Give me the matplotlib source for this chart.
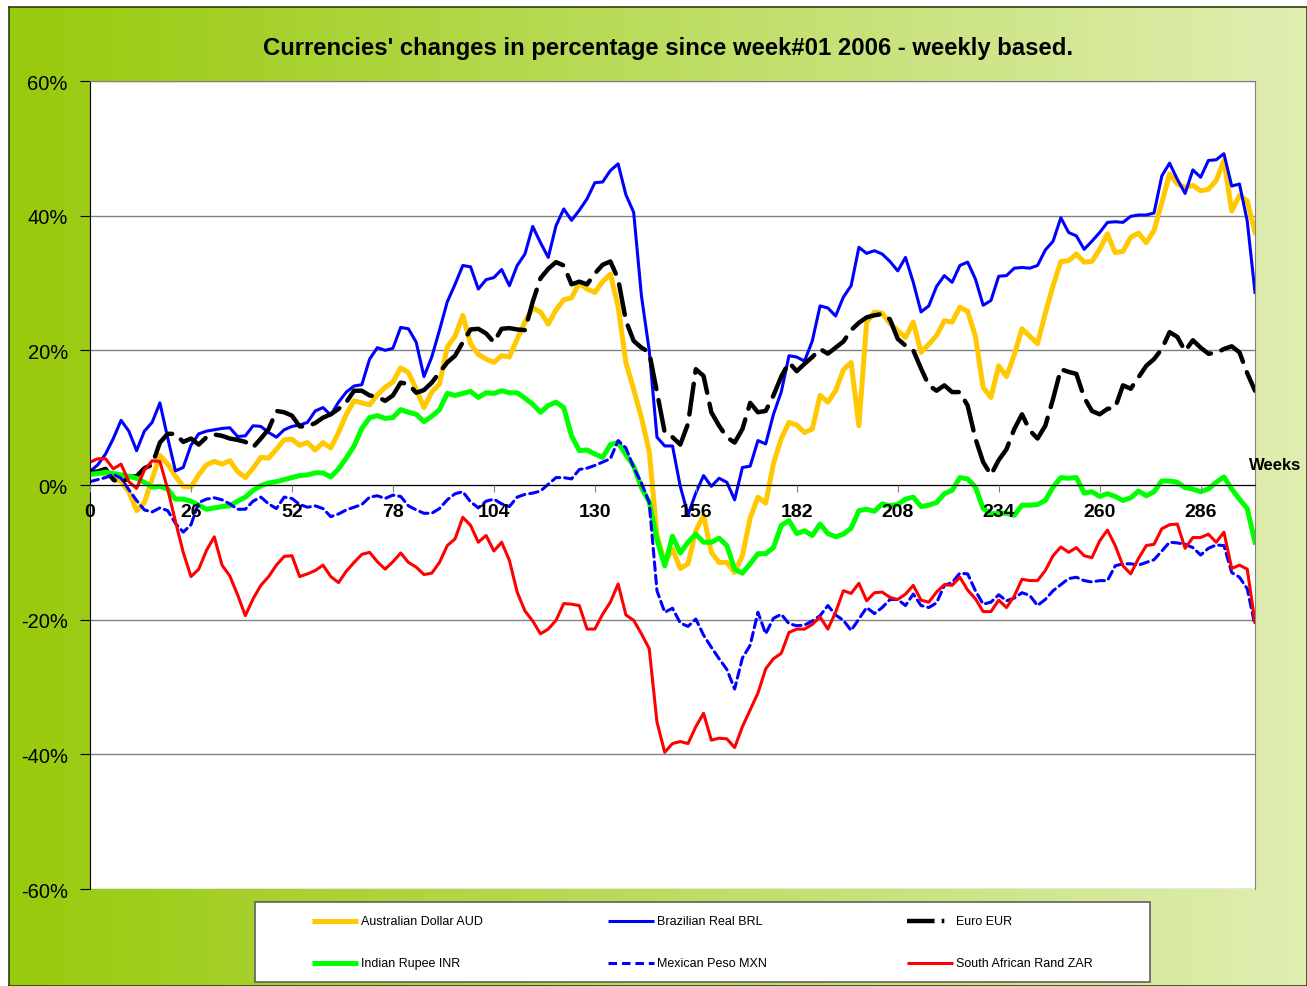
import numpy as np
import matplotlib.pyplot as plt
from matplotlib.lines import Line2D
from matplotlib.patches import Rectangle
from matplotlib.ticker import FuncFormatter

plt.rcParams['font.family'] = ['Liberation Sans', 'DejaVu Sans']

# Data: % change since week #01 2006, read every 2 weeks
weeks = list(range(0, 301, 2))

aud = [1.5, 2.0, 1.6, 1.0, 0.5, -1.0, -3.8, -2.6, 0.9, 4.4,
       3.1, 1.3, -0.2, -0.3, 1.5, 3.0, 3.5, 3.1, 3.6, 2.0,
       1.1, 2.5, 4.1, 4.0, 5.3, 6.7, 6.8, 5.9, 6.3, 5.2,
       6.3, 5.5, 7.8, 10.5, 12.5, 12.2, 11.9, 13.4, 14.5, 15.3,
       17.4, 16.7, 14.2, 11.5, 13.8, 15.0, 20.5, 22.1, 25.2, 21.0,
       19.4, 18.7, 18.2, 19.2, 19.0, 21.7, 24.2, 26.3, 25.7, 23.9,
       26.0, 27.5, 27.8, 30.0, 29.1, 28.6, 30.2, 31.3, 26.5, 18.2,
       14.2, 10.0, 5.0, -7.4, -11.5, -9.5, -12.4, -11.7, -6.8, -4.5,
       -10.0, -11.5, -11.5, -13.0, -10.5, -4.9, -1.8, -2.7, 3.2, 6.9,
       9.3, 8.9, 7.8, 8.3, 13.3, 12.3, 14.0, 17.1, 18.2, 8.8,
       24.2, 25.7, 25.5, 24.0, 22.9, 21.9, 24.2, 19.7, 20.9, 22.2,
       24.4, 24.2, 26.4, 25.8, 22.1, 14.5, 13.0, 17.7, 16.1, 19.3,
       23.2, 22.1, 21.0, 25.5, 29.6, 33.2, 33.3, 34.3, 33.1, 33.2,
       35.0, 37.3, 34.5, 34.7, 36.8, 37.4, 36.0, 37.8, 41.9, 46.2,
       44.7, 44.2, 44.5, 43.7, 43.9, 45.2, 48.2, 40.7, 43.0, 42.2,
       37.5]

brl = [2.0, 3.0, 4.6, 6.9, 9.6, 8.0, 5.1, 8.0, 9.3, 12.2,
       7.0, 2.1, 2.6, 5.9, 7.6, 8.0, 8.2, 8.4, 8.5, 7.2,
       7.3, 8.8, 8.7, 7.8, 7.1, 8.2, 8.7, 8.9, 9.3, 11.0,
       11.5, 10.4, 12.3, 13.8, 14.7, 14.9, 18.7, 20.4, 20.0, 20.3,
       23.4, 23.2, 21.2, 16.1, 19.0, 23.0, 27.2, 29.8, 32.6, 32.4,
       29.1, 30.5, 30.8, 32.0, 29.6, 32.6, 34.3, 38.4, 36.0, 33.8,
       38.5, 41.0, 39.3, 40.8, 42.5, 44.9, 45.0, 46.7, 47.7, 43.1,
       40.5, 28.1, 20.0, 7.1, 5.8, 5.8, -0.2, -4.4, -1.2, 1.4,
       -0.2, 1.0, 0.4, -2.2, 2.6, 2.8, 6.6, 6.1, 10.5, 13.8,
       19.2, 19.0, 18.4, 21.4, 26.6, 26.3, 25.1, 27.9, 29.6, 35.3,
       34.4, 34.8, 34.3, 33.2, 31.8, 33.8, 30.1, 25.7, 26.6, 29.5,
       31.1, 30.1, 32.6, 33.1, 30.6, 26.7, 27.4, 31.0, 31.1, 32.2,
       32.3, 32.2, 32.6, 34.9, 36.2, 39.7, 37.5, 37.0, 35.0, 36.2,
       37.5, 39.0, 39.1, 39.0, 39.9, 40.1, 40.1, 40.4, 45.9, 47.8,
       45.4, 43.3, 46.8, 45.7, 48.2, 48.3, 49.2, 44.4, 44.7, 39.2,
       28.6]

eur = [1.9, 2.0, 2.4, 0.8, 0.2, 1.2, 1.3, 2.5, 3.0, 6.3,
       7.6, 7.6, 6.4, 6.9, 6.0, 7.1, 7.5, 7.3, 6.9, 6.7,
       6.4, 5.6, 6.9, 8.3, 11.0, 10.8, 10.3, 8.7, 8.7, 9.2,
       10.0, 10.5, 11.3, 12.3, 14.0, 14.0, 13.3, 13.1, 12.5, 13.3,
       15.2, 15.0, 13.7, 14.1, 15.2, 16.7, 18.2, 19.2, 21.2, 23.1,
       23.2, 22.5, 21.2, 23.2, 23.3, 23.1, 23.0, 27.2, 30.7, 32.1,
       33.1, 32.6, 29.8, 30.2, 29.8, 31.4, 32.7, 33.2, 30.6, 24.4,
       21.4, 20.4, 19.7, 13.8, 7.8, 7.1, 6.0, 9.1, 17.2, 16.2,
       10.8, 8.8, 7.1, 6.3, 8.3, 12.2, 10.8, 11.0, 13.3, 16.1,
       18.2, 16.9, 18.0, 19.0, 20.2, 19.5, 20.4, 21.3, 23.0, 24.1,
       24.9, 25.2, 25.4, 24.6, 21.7, 20.7, 20.0, 17.3, 14.8, 14.0,
       14.8, 13.8, 13.8, 11.8, 6.9, 3.4, 1.5, 3.7, 5.3, 8.3,
       10.5, 8.1, 6.9, 8.8, 12.8, 17.2, 16.8, 16.5, 13.0, 11.0,
       10.5, 11.3, 11.5, 14.8, 14.3, 16.0, 17.7, 18.7, 20.2, 22.7,
       22.0, 19.9, 21.5, 20.4, 19.5, 19.6, 20.2, 20.6, 19.7, 16.6,
       14.0]

inr = [1.6, 1.7, 1.9, 1.7, 1.5, 1.3, 1.0, 0.4, -0.3, -0.2,
       -0.6, -2.1, -2.1, -2.4, -3.0, -3.6, -3.4, -3.2, -3.1, -2.4,
       -1.8, -0.8, -0.1, 0.3, 0.5, 0.8, 1.1, 1.4, 1.5, 1.8,
       1.8, 1.2, 2.4, 4.0, 5.8, 8.4, 10.0, 10.3, 9.9, 10.0,
       11.2, 10.8, 10.5, 9.4, 10.2, 11.2, 13.6, 13.3, 13.6, 13.9,
       13.0, 13.7, 13.6, 14.0, 13.7, 13.7, 12.9, 12.0, 10.8, 11.8,
       12.3, 11.5, 7.3, 5.1, 5.2, 4.6, 4.1, 6.0, 6.3, 4.5,
       2.8, -0.4, -2.5, -8.1, -12.0, -7.6, -10.1, -8.5, -7.3, -8.5,
       -8.5, -7.9, -9.0, -12.5, -13.1, -11.7, -10.2, -10.2, -9.3, -6.0,
       -5.3, -7.2, -6.8, -7.5, -5.8, -7.2, -7.7, -7.3, -6.4, -3.8,
       -3.6, -3.9, -2.8, -3.1, -2.9, -2.1, -1.8, -3.2, -3.0, -2.6,
       -1.3, -0.8, 1.1, 0.9, -0.3, -3.5, -4.3, -4.2, -4.2, -4.5,
       -3.0, -3.0, -2.9, -2.3, -0.3, 1.1, 1.0, 1.1, -1.2, -1.0,
       -1.7, -1.3, -1.7, -2.3, -1.9, -0.9, -1.6, -1.0, 0.6, 0.6,
       0.4, -0.4, -0.6, -1.0, -0.6, 0.4, 1.2, -0.6, -2.1, -3.5,
       -8.5]

mxn = [0.5, 0.8, 1.1, 1.6, 1.0, -0.7, -2.3, -3.7, -4.0, -3.4,
       -3.8, -5.7, -7.0, -5.9, -2.6, -2.1, -1.9, -2.2, -2.8, -3.6,
       -3.6, -2.4, -1.8, -2.8, -3.5, -1.8, -2.0, -2.9, -3.3, -3.1,
       -3.5, -4.7, -4.3, -3.7, -3.3, -2.9, -1.8, -1.6, -2.0, -1.5,
       -1.7, -3.1, -3.7, -4.2, -4.2, -3.5, -2.2, -1.3, -1.0, -2.5,
       -3.4, -2.4, -2.1, -2.8, -3.2, -1.8, -1.4, -1.2, -0.9, 0.1,
       1.1, 1.1, 0.9, 2.3, 2.5, 2.9, 3.4, 3.9, 6.6, 5.5,
       2.6, 0.3, -2.6, -15.7, -18.9, -18.3, -20.5, -21.0, -19.9, -22.3,
       -24.1, -25.8, -27.4, -30.3, -25.7, -23.8, -18.9, -22.1, -19.8, -19.2,
       -20.6, -20.9, -20.8, -20.2, -19.4, -17.9, -19.3, -20.1, -21.6, -19.9,
       -18.2, -19.1, -18.2, -17.0, -17.0, -17.9, -16.2, -17.9, -18.2, -17.5,
       -14.9, -14.5, -13.1, -13.2, -15.7, -17.7, -17.4, -16.3, -17.2, -16.8,
       -16.0, -16.4, -17.9, -17.0, -15.7, -14.8, -13.9, -13.7, -14.2, -14.4,
       -14.2, -14.2, -12.0, -11.7, -11.7, -11.9, -11.5, -11.1, -9.8, -8.5,
       -8.6, -8.8, -9.3, -10.4, -9.4, -8.9, -9.0, -13.0, -13.7, -15.4,
       -20.9]

zar = [3.4, 3.9, 3.9, 2.4, 3.1, 0.5, -0.5, 2.2, 3.6, 3.5,
       -0.6, -5.4, -10.0, -13.6, -12.5, -9.7, -7.7, -11.9, -13.5, -16.3,
       -19.4, -16.9, -14.9, -13.6, -11.9, -10.6, -10.5, -13.6, -13.2, -12.7,
       -11.9, -13.6, -14.5, -12.8, -11.5, -10.3, -10.0, -11.4, -12.5, -11.4,
       -10.1, -11.5, -12.2, -13.3, -13.1, -11.5, -9.0, -8.0, -4.8, -6.0,
       -8.5, -7.5, -9.8, -8.5, -11.2, -15.9, -18.7, -20.2, -22.1, -21.4,
       -20.1, -17.6, -17.7, -17.9, -21.4, -21.4, -19.2, -17.4, -14.7, -19.3,
       -20.1, -22.1, -24.3, -35.2, -39.7, -38.4, -38.1, -38.4, -35.9, -33.9,
       -37.9, -37.6, -37.7, -39.0, -35.9, -33.4, -30.9, -27.3, -25.8, -25.0,
       -21.9, -21.4, -21.4, -20.7, -19.6, -21.4, -18.9, -15.7, -16.1, -14.6,
       -17.2, -16.0, -15.9, -16.7, -17.0, -16.2, -14.9, -17.1, -17.4, -15.9,
       -14.8, -14.9, -13.7, -15.6, -16.9, -18.8, -18.8, -17.1, -18.2, -16.5,
       -14.0, -14.2, -14.2, -12.7, -10.5, -9.2, -10.0, -9.3, -10.5, -10.8,
       -8.3, -6.7, -9.0, -12.0, -13.2, -10.9, -9.0, -8.8, -6.5, -5.9,
       -5.8, -9.4, -7.8, -7.8, -7.3, -8.5, -7.0, -12.4, -11.9, -12.5,
       -20.4]

labels = ['Australian Dollar AUD', 'Brazilian Real BRL', 'Euro EUR',
          'Indian Rupee INR', 'Mexican Peso MXN', 'South African Rand ZAR']
series = [aud, brl, eur, inr, mxn, zar]
colors = ['#FFC800', '#0000FF', '#000000', '#00FF00', '#0000FF', '#FF0000']
widths = [3.6, 2.2, 3.2, 3.6, 2.2, 2.2]
dashes = [None, None, (7, 2.5), None, (2.8, 1.6), None]

W, H = 1307, 987
fig = plt.figure(figsize=(W / 100, H / 100), dpi=100)

# green gradient background with dark frame
bg = fig.add_axes([9 / W, 0, 1 - 9 / W, 1 - 8 / H])
left_c = np.array([152, 202, 12]) / 255
right_c = np.array([224, 238, 178]) / 255
t = np.linspace(0, 1, 400)[None, :, None]
grad = left_c * (1 - t) + right_c * t
bg.imshow(grad, aspect='auto', extent=[0, 1, 0, 1])
bg.set_xticks([])
bg.set_yticks([])
for s in bg.spines.values():
    s.set_color('#2d3d10')
    s.set_linewidth(1.2)

ax = fig.add_axes([90 / W, 1 - 890 / H, (1255 - 90) / W, (890 - 82) / H])
ax.set_facecolor('white')

for y, lab, c, lw, d in zip(series, labels, colors, widths, dashes):
    line, = ax.plot(weeks, y, color=c, lw=lw, label=lab,
                    solid_joinstyle='round', dash_capstyle='round')
    if d is not None:
        line.set_dashes(d)

ax.set_xlim(0, 300)
ax.set_ylim(-60, 60)
ax.set_yticks(range(-60, 61, 20))
ax.yaxis.set_major_formatter(FuncFormatter(lambda v, p: f'{v:.0f}%'))
ax.grid(axis='y', color='#808080', lw=1)
ax.set_axisbelow(True)
ax.xaxis.set_zorder(5)  # week labels sit above the lines

ax.spines['bottom'].set_position(('data', 0))
ax.spines['bottom'].set_color('black')
ax.spines['left'].set_color('black')
ax.spines['top'].set_color('#808080')
ax.spines['right'].set_color('#808080')

ax.set_xticks(range(0, 300, 26))
ax.set_xticklabels([str(w) for w in range(0, 300, 26)],
                   fontweight='bold', fontsize=14)
ax.tick_params(axis='x', direction='out', length=5, color='#808080', pad=8)
ax.tick_params(axis='y', direction='out', length=7, color='black',
               labelsize=14.5, pad=9)

fig.text(1249 / W, 1 - 466 / H, 'Weeks', fontsize=12, fontweight='bold',
         ha='left', va='center')
fig.text(668 / W, 1 - 49 / H,
         "Currencies' changes in percentage since week#01 2006 - weekly based.",
         fontsize=17.2, fontweight='bold', ha='center', va='center')

# legend box, entries laid out row by row
fig.patches.append(Rectangle((255 / W, 1 - 983 / H), 895 / W, 80 / H,
                             transform=fig.transFigure, facecolor='white',
                             edgecolor='#606060', lw=1.2))
col_x = [312, 608, 907]
row_y = [922, 964]
for i, (lab, c, lw, d) in enumerate(zip(labels, colors, widths, dashes)):
    x0 = col_x[i % 3]
    yy = 1 - row_y[i // 3] / H
    x1 = x0 + 46
    ln = Line2D([x0 / W, x1 / W], [yy, yy], transform=fig.transFigure,
                color=c, lw=lw, solid_capstyle='butt')
    if lab.startswith('Euro'):
        ln.set_dashes((6.2, 1.6, 0.6, 6))
    elif d is not None:
        ln.set_dashes(d)
    fig.lines.append(ln)
    fig.text((x1 + 3) / W, yy, lab, fontsize=9, ha='left', va='center')

fig.savefig('out.png', dpi=100)
